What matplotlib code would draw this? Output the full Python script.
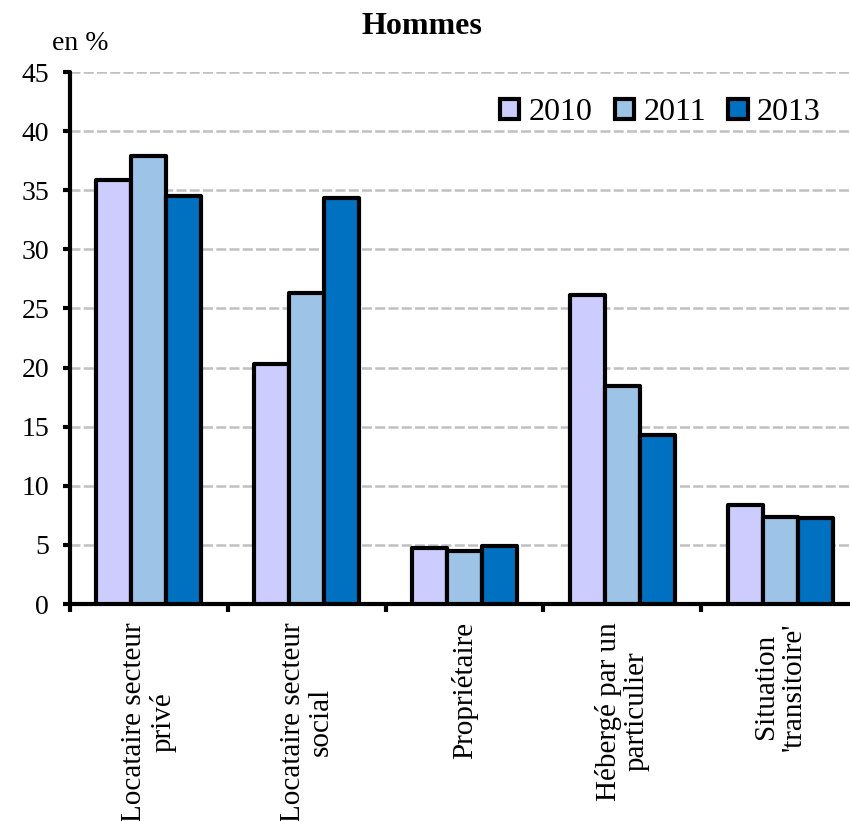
import numpy as np
import matplotlib

matplotlib.use("Agg")
import matplotlib.pyplot as plt
from matplotlib.patches import Patch

categories = [
    "Locataire secteur\nprivé",
    "Locataire secteur\nsocial",
    "Propriétaire",
    "Hébergé par un\nparticulier",
    "Situation\n'transitoire'",
]
years = ["2010", "2011", "2013"]
v2010 = [35.9, 20.3, 4.7, 26.1, 8.4]
v2011 = [37.9, 26.3, 4.5, 18.4, 7.4]
v2013 = [34.5, 34.3, 4.9, 14.3, 7.3]
colors = ["#CCCCFF", "#9DC3E6", "#0070C0"]

plt.rcParams["font.family"] = ["Liberation Serif", "DejaVu Serif"]

W, H = 850, 821
fig = plt.figure(figsize=(W / 100, H / 100), dpi=100)
ax = fig.add_axes([70 / W, 1 - 604 / H, 789 / W, 532 / H])

x = np.arange(len(categories))
width = 0.222
for i, (vals, col) in enumerate(zip([v2010, v2011, v2013], colors)):
    ax.bar(x + (i - 1) * width, vals, width, color=col, edgecolor="black",
           linewidth=3, joinstyle="round", zorder=3)

ax.set_xlim(-0.5, len(categories) - 0.5)
ax.set_ylim(0, 45)
ax.set_yticks(np.arange(0, 46, 5))
ax.yaxis.grid(True, color="#c0c0c0", linewidth=1.8, dashes=(4, 1.3), zorder=0)
ax.set_axisbelow(True)

for s in ("top", "right"):
    ax.spines[s].set_visible(False)
for s in ("left", "bottom"):
    ax.spines[s].set_linewidth(3)
    ax.spines[s].set_capstyle("round")

ax.tick_params(axis="y", direction="out", length=5, width=3, labelsize=20, pad=10)
ax.set_xticks(x)
ax.set_xticklabels(categories, rotation=90, fontsize=21, multialignment="center",
                   linespacing=1.1)
ax.tick_params(axis="x", which="major", length=0, pad=13)
ax.set_xticks(np.arange(-0.5, len(categories) - 0.5, 1), minor=True)
ax.tick_params(axis="x", which="minor", direction="out", length=6, width=3)

handles = [Patch(facecolor=c, edgecolor="black", linewidth=3) for c in colors]
ax.legend(handles, years, ncol=3, loc="center right", frameon=False,
          bbox_to_anchor=(821 / W, 1 - 113 / H), bbox_transform=fig.transFigure,
          fontsize=23, handlelength=0.6, handleheight=0.6, handletextpad=0.3,
          columnspacing=0.7, borderaxespad=0, borderpad=0)

fig.text(422 / W, 1 - 27 / H, "Hommes", ha="center", va="center",
         fontsize=23, fontweight="bold")
fig.text(80 / W, 1 - 44 / H, "en %", ha="center", va="center", fontsize=20)

fig.savefig("out.png", dpi=100)
